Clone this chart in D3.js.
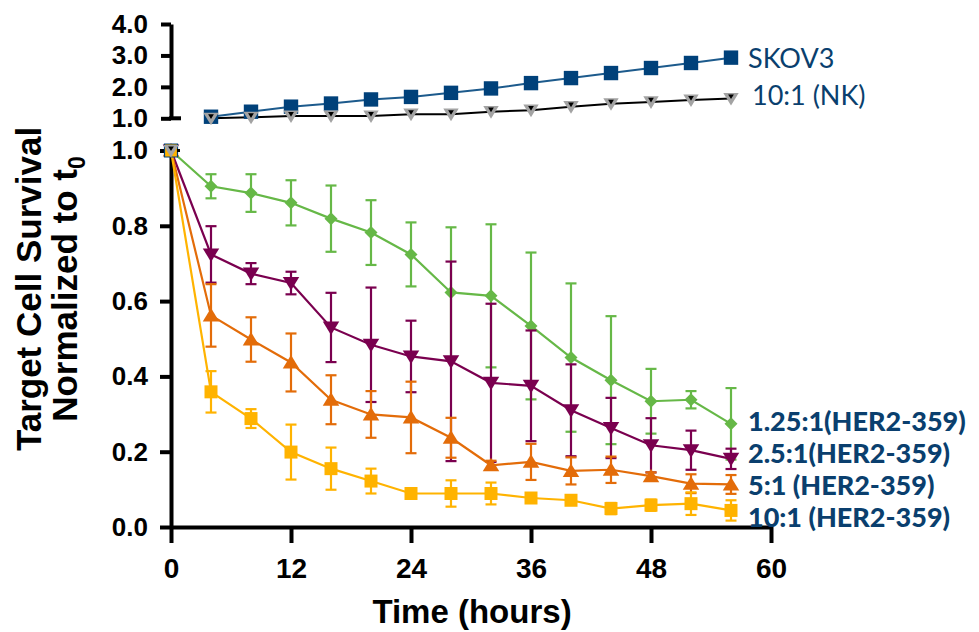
<!DOCTYPE html>
<html>
<head>
<meta charset="utf-8">
<script src="https://cdn.jsdelivr.net/npm/d3@7"></script>
<style>
  body { margin: 0; background: #fff; }
  svg { display: block; }
</style>
</head>
<body>
<svg id="chart" width="979" height="632"></svg>
<script>
// time points (hours)
const hours = [0, 4, 8, 12, 16, 20, 24, 28, 32, 36, 40, 44, 48, 52, 56];

// upper panel series
const skov3 = [1.0, 1.05, 1.21, 1.37, 1.47, 1.60, 1.68, 1.81, 1.95, 2.12, 2.28, 2.44, 2.60, 2.76, 2.93];
const nk = [1.0, 1.0, 1.03, 1.07, 1.07, 1.07, 1.13, 1.13, 1.21, 1.26, 1.37, 1.46, 1.52, 1.58, 1.63];

// lower panel series (mean, error)
const her125 = [1.0, 0.905, 0.887, 0.861, 0.819, 0.782, 0.724, 0.623, 0.614, 0.534, 0.450, 0.390, 0.334, 0.338, 0.274];
const her125Err = [0, 0.032, 0.05, 0.06, 0.088, 0.086, 0.085, 0.173, 0.19, 0.195, 0.197, 0.17, 0.086, 0.023, 0.095];
const her25 = [1.0, 0.724, 0.673, 0.648, 0.530, 0.484, 0.453, 0.440, 0.383, 0.375, 0.310, 0.263, 0.217, 0.204, 0.181];
const her25Err = [0, 0.075, 0.028, 0.03, 0.092, 0.152, 0.095, 0.265, 0.21, 0.147, 0.122, 0.08, 0.072, 0.052, 0.027];
const her5 = [1.0, 0.562, 0.498, 0.437, 0.338, 0.299, 0.291, 0.237, 0.164, 0.173, 0.149, 0.152, 0.135, 0.115, 0.113];
const her5Err = [0, 0.083, 0.059, 0.077, 0.065, 0.062, 0.095, 0.053, 0.012, 0.048, 0.036, 0.035, 0.01, 0.025, 0.025];
const her10 = [1.0, 0.359, 0.288, 0.199, 0.155, 0.122, 0.089, 0.089, 0.089, 0.077, 0.071, 0.049, 0.058, 0.062, 0.044];
const her10Err = [0, 0.055, 0.025, 0.073, 0.056, 0.033, 0.012, 0.035, 0.029, 0.012, 0.01, 0.015, 0.015, 0.03, 0.027];

const xTicks = [0, 12, 24, 36, 48, 60];
const yTicksLow = [0, 0.2, 0.4, 0.6, 0.8, 1.0];
const yTicksTop = [1, 2, 3, 4];

const navy = '#00417a';
const labelBlue = '#0a3f6e';

const svg = d3.select('#chart');

const x = d3.scaleLinear().domain([0, 60]).range([171, 771]);
const yLow = d3.scaleLinear().domain([0, 1]).range([527, 150.5]);
const yTop = d3.scaleLinear().domain([1, 4]).range([118.3, 24]);

// marker shapes
const shapes = {
  square: r => `M${-r},${-r}h${2 * r}v${2 * r}h${-2 * r}Z`,
  diamond: r => `M0,${-r}L${r},0L0,${r}L${-r},0Z`,
  up: r => `M0,${-r}L${r * 1.1},${r * 0.8}L${-r * 1.1},${r * 0.8}Z`,
  down: r => `M0,${r}L${r * 1.1},${-r * 0.8}L${-r * 1.1},${-r * 0.8}Z`
};

const axisFont = g => g.selectAll('text')
  .attr('font-family', '"Liberation Sans", Arial, sans-serif')
  .attr('font-weight', 'bold')
  .attr('fill', '#000');

const styleAxis = g => {
  g.select('.domain').attr('stroke', '#000').attr('stroke-width', 4);
  g.selectAll('.tick line').attr('stroke', '#000').attr('stroke-width', 4);
};

// ---- lower panel axes
svg.append('g')
  .attr('transform', 'translate(171,0)')
  .call(d3.axisLeft(yLow).tickValues(yTicksLow).tickFormat(d3.format('.1f')).tickSize(11).tickSizeOuter(0).tickPadding(12))
  .call(styleAxis)
  .call(axisFont)
  .call(g => g.selectAll('text').attr('font-size', 26));

svg.append('g')
  .attr('transform', 'translate(0,527)')
  .call(d3.axisBottom(x).tickValues(xTicks).tickSize(16).tickSizeOuter(0))
  .call(styleAxis)
  .call(axisFont)
  .call(g => g.selectAll('text').attr('font-size', 28).attr('y', 51).attr('dy', 0));

// ---- upper panel axis
svg.append('g')
  .attr('transform', 'translate(171,0)')
  .call(d3.axisLeft(yTop).tickValues(yTicksTop).tickFormat(d3.format('.1f')).tickSize(10).tickSizeOuter(0).tickPadding(13))
  .call(styleAxis)
  .call(axisFont)
  .call(g => g.selectAll('text').attr('font-size', 26));

svg.append('line')
  .attr('x1', 169).attr('x2', 181)
  .attr('y1', yTop(1)).attr('y2', yTop(1))
  .attr('stroke', '#000').attr('stroke-width', 4);

// ---- lower panel series
const lowSeries = [
  { values: her125, err: her125Err, color: '#66b847', shape: 'diamond', r: 6.5 },
  { values: her25, err: her25Err, color: '#7a004f', shape: 'down', r: 7.5 },
  { values: her5, err: her5Err, color: '#e36c09', shape: 'up', r: 7.5 },
  { values: her10, err: her10Err, color: '#ffb300', shape: 'square', r: 6.5 }
];

const lineLow = d3.line().x((d, i) => x(hours[i])).y(d => yLow(d));

lowSeries.forEach(s => {
  const g = svg.append('g');
  g.append('path')
    .attr('d', lineLow(s.values))
    .attr('fill', 'none')
    .attr('stroke', s.color)
    .attr('stroke-width', 2.2);

  const eb = g.selectAll('g.eb')
    .data(s.values.map((v, i) => ({ t: hours[i], v, e: s.err[i] })).filter(d => d.e > 0))
    .join('g');
  eb.append('line')
    .attr('x1', d => x(d.t)).attr('x2', d => x(d.t))
    .attr('y1', d => yLow(d.v - d.e)).attr('y2', d => yLow(d.v + d.e))
    .attr('stroke', s.color).attr('stroke-width', 2.2);
  [1, -1].forEach(sign => {
    eb.append('line')
      .attr('x1', d => x(d.t) - 5.5).attr('x2', d => x(d.t) + 5.5)
      .attr('y1', d => yLow(d.v + sign * d.e)).attr('y2', d => yLow(d.v + sign * d.e))
      .attr('stroke', s.color).attr('stroke-width', 2.2);
  });

  g.selectAll('path.mk')
    .data(s.values)
    .join('path')
    .attr('class', 'mk')
    .attr('transform', (d, i) => `translate(${x(hours[i])},${yLow(d)})`)
    .attr('d', shapes[s.shape](s.r))
    .attr('fill', s.color);
});

// start markers of the upper series show in the lower panel at 1.0
svg.append('path')
  .attr('transform', `translate(${x(hours[0])},${yLow(skov3[0])})`)
  .attr('d', shapes.square(6.5))
  .attr('fill', '#ffb300').attr('stroke', navy).attr('stroke-width', 1.2);

const nkMarker = (g, cx, cy) => {
  g.append('path')
    .attr('transform', `translate(${cx},${cy})`)
    .attr('d', shapes.down(7))
    .attr('fill', '#a3a3a3');
  g.append('path')
    .attr('transform', `translate(${cx},${cy - 2})`)
    .attr('d', shapes.down(2.6))
    .attr('fill', '#000');
};
nkMarker(svg, x(hours[0]), yLow(nk[0]));
svg.append('line')
  .attr('x1', x(0) + 6).attr('x2', x(0) + 9)
  .attr('y1', yLow(1)).attr('y2', yLow(1))
  .attr('stroke', '#000').attr('stroke-width', 3);

// ---- upper panel series (from 4 h)
const idxTop = hours.map((h, i) => i).filter(i => hours[i] > 0);
const lineTop = d3.line().x(i => x(hours[i]));

svg.append('path')
  .attr('d', lineTop.y(i => yTop(nk[i]))(idxTop))
  .attr('fill', 'none').attr('stroke', '#000').attr('stroke-width', 2);

svg.append('path')
  .attr('d', lineTop.y(i => yTop(skov3[i]))(idxTop))
  .attr('fill', 'none').attr('stroke', '#1c5a8c').attr('stroke-width', 2);

svg.selectAll('path.sk')
  .data(idxTop)
  .join('path')
  .attr('class', 'sk')
  .attr('transform', i => `translate(${x(hours[i])},${yTop(skov3[i])})`)
  .attr('d', shapes.square(7.2))
  .attr('fill', navy);

const nkG = svg.append('g');
idxTop.forEach(i => nkMarker(nkG, x(hours[i]), yTop(nk[i])));

// ---- series labels
const labelFont = 'Lato, "Open Sans", sans-serif';
svg.append('text').attr('x', 748).attr('y', 68).text('SKOV3')
  .attr('font-family', labelFont).attr('font-size', 27).attr('fill', labelBlue);
svg.append('text').attr('x', 752).attr('y', 105).text('10:1 (NK)')
  .attr('font-family', labelFont).attr('font-size', 27).attr('fill', labelBlue);

const herLabels = ['1.25:1(HER2-359)', '2.5:1(HER2-359)', '5:1 (HER2-359)', '10:1 (HER2-359)'];
const herBaselines = [431, 463, 495, 527];
svg.selectAll('text.her')
  .data(herLabels)
  .join('text')
  .attr('class', 'her')
  .attr('x', 748)
  .attr('y', (d, i) => herBaselines[i])
  .text(d => d)
  .attr('font-family', labelFont)
  .attr('font-weight', 900)
  .attr('font-size', 27)
  .attr('fill', labelBlue);

// ---- axis titles
const titleFont = '"Liberation Sans", Arial, sans-serif';
svg.append('text')
  .attr('x', 472).attr('y', 623)
  .attr('text-anchor', 'middle')
  .attr('font-family', titleFont).attr('font-weight', 'bold').attr('font-size', 33)
  .text('Time (hours)');

const yt = svg.append('g').attr('transform', 'translate(0,289) rotate(-90)');
yt.append('text')
  .attr('x', 0).attr('y', 41)
  .attr('text-anchor', 'middle')
  .attr('font-family', titleFont).attr('font-weight', 'bold').attr('font-size', 35)
  .text('Target Cell Survival');
const yt2 = yt.append('text')
  .attr('x', 0).attr('y', 77)
  .attr('text-anchor', 'middle')
  .attr('font-family', titleFont).attr('font-weight', 'bold').attr('font-size', 35);
yt2.append('tspan').text('Normalized to t');
yt2.append('tspan').attr('font-size', 23).attr('dy', 8).text('0');
</script>
</body>
</html>
